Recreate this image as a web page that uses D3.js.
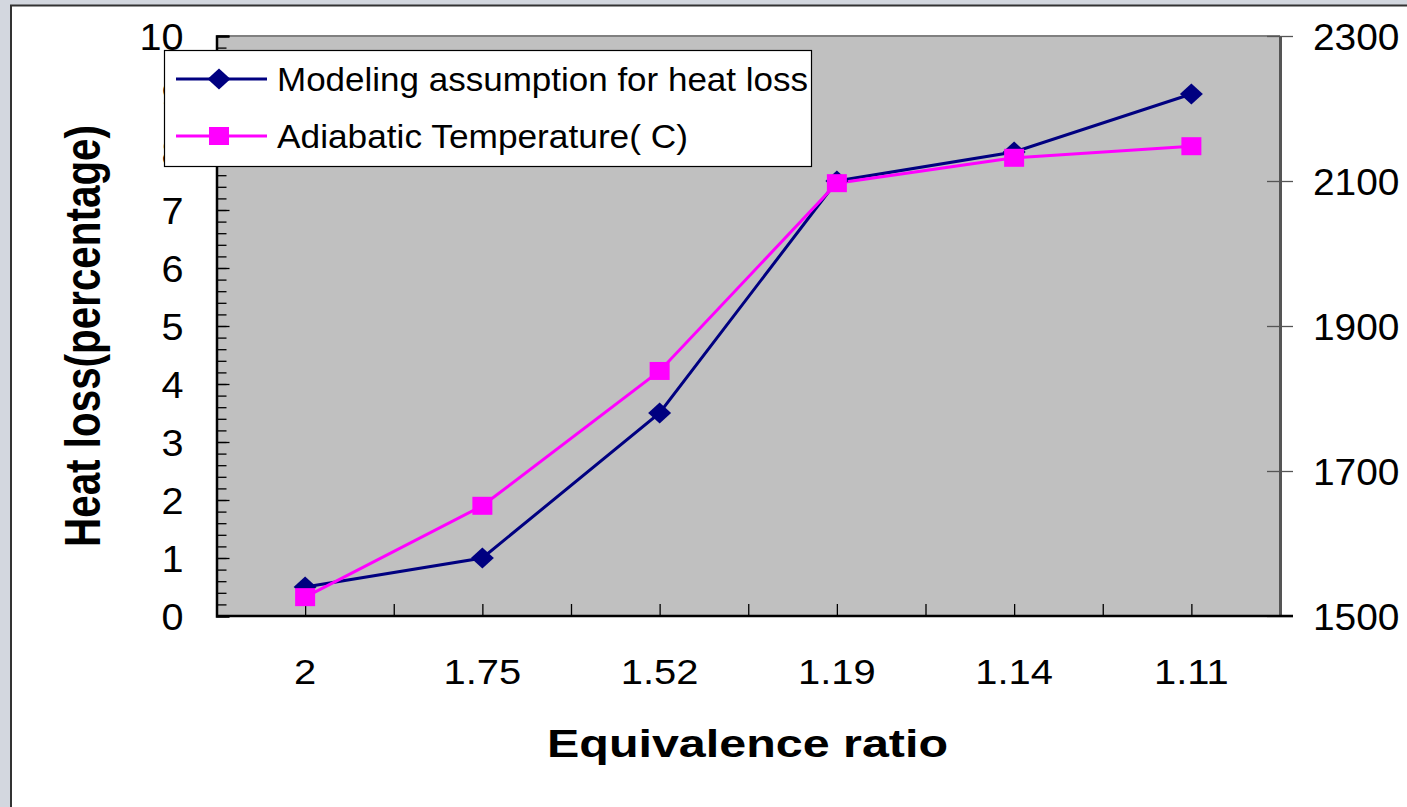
<!DOCTYPE html>
<html><head><meta charset="utf-8">
<script src="https://cdn.jsdelivr.net/npm/d3@7"></script>
<style>
html,body{margin:0;padding:0;background:#d3d7df;}
svg{display:block;font-family:"Liberation Sans",Arial,sans-serif;}
</style></head>
<body>
<svg id="chart" width="1407" height="807"></svg>
<script>
const categories = ["2", "1.75", "1.52", "1.19", "1.14", "1.11"];
const heatLoss = [0.5, 1.0, 3.5, 7.5, 8.0, 9.0];
const adiabaticTemp = [1526, 1652, 1838, 2097, 2132, 2148];
const leftTicks = [0,1,2,3,4,5,6,7,8,9,10];
const rightTicks = [1500,1700,1900,2100,2300];
const seriesNames = ["Modeling assumption for heat loss", "Adiabatic Temperature( C)"];

const svg = d3.select("#chart");
const W = 1407, H = 807;
const P = {l: 216.5, r: 1280, t: 36, b: 616};

// outer panel
svg.append("rect").attr("x", 0).attr("y", 0).attr("width", W).attr("height", H).attr("fill", "#d3d7df");
svg.append("rect").attr("x", 11).attr("y", 5.5).attr("width", W + 20).attr("height", H + 20)
  .attr("fill", "#ffffff").attr("stroke", "#333").attr("stroke-width", 2);

const x = d3.scaleBand().domain(categories).range([P.l, P.r]).paddingInner(0).paddingOuter(0);
const xLin = d3.scaleLinear().domain([0, categories.length]).range([P.l, P.r]);
const yL = d3.scaleLinear().domain([0, 10]).range([P.b, P.t]);
const yR = d3.scaleLinear().domain([1500, 2300]).range([P.b, P.t]);
const cx = c => x(c) + x.bandwidth() / 2;

// plot area
svg.append("rect").attr("x", P.l).attr("y", P.t).attr("width", P.r - P.l).attr("height", P.b - P.t)
  .attr("fill", "#c0c0c0");
svg.append("line").attr("x1", P.l).attr("x2", P.r).attr("y1", P.t).attr("y2", P.t)
  .attr("stroke", "#808080").attr("stroke-width", 2);

function stretch(sel, k) {
  sel.each(function() {
    const len = this.getComputedTextLength();
    d3.select(this).attr("textLength", len * k).attr("lengthAdjust", "spacingAndGlyphs");
  });
}

// left axis minor ticks
const gLm = svg.append("g").attr("transform", `translate(${P.l},0)`)
  .call(d3.axisRight(yL).tickValues(d3.range(0, 10.01, 0.2)).tickSize(10).tickFormat(""));
gLm.select(".domain").remove();
gLm.selectAll("line").attr("stroke", "#000").attr("stroke-width", 1.3);

// left axis major
const gL = svg.append("g").attr("transform", `translate(${P.l},0)`)
  .call(d3.axisLeft(yL).tickValues(leftTicks).tickSize(-13).tickPadding(33).tickFormat(d3.format("d")));
gL.select(".domain").attr("stroke", "#000").attr("stroke-width", 2.5);
gL.selectAll("line").attr("stroke", "#000").attr("stroke-width", 1.3);
gL.selectAll("text").attr("font-size", 36).attr("fill", "#000").attr("dy", "0.38em")
  .attr("font-family", "Liberation Sans, Arial, sans-serif");
stretch(gL.selectAll("text"), 1.1);

// right axis
const gR = svg.append("g").attr("transform", `translate(${P.r},0)`)
  .call(d3.axisRight(yR).tickValues(rightTicks).tickSizeInner(13).tickSizeOuter(0).tickPadding(20).tickFormat(d3.format("d")));
gR.select(".domain").attr("stroke", "#555").attr("stroke-width", 3);
gR.selectAll(".tick line").attr("x1", -13).attr("stroke", "#555").attr("stroke-width", 1.3);
gR.selectAll("text").attr("font-size", 36).attr("fill", "#000").attr("dy", "0.38em")
  .attr("font-family", "Liberation Sans, Arial, sans-serif");
stretch(gR.selectAll("text"), 1.08);

// bottom axis ticks (half-band)
const gBt = svg.append("g").attr("transform", `translate(0,${P.b})`)
  .call(d3.axisBottom(xLin).tickValues(d3.range(0.5, categories.length, 0.5)).tickSize(-12).tickFormat(""));
gBt.select(".domain").remove();
gBt.selectAll("line").attr("stroke", "#000").attr("stroke-width", 1.3);

// bottom axis labels
const gB = svg.append("g").attr("transform", `translate(0,${P.b})`)
  .call(d3.axisBottom(x).tickSize(0).tickPadding(43));
gB.select(".domain").attr("d", `M${P.l},0H${P.r + 13}`).attr("stroke", "#000").attr("stroke-width", 2.5);
gB.selectAll("text").attr("font-size", 35).attr("fill", "#000").attr("dy", "0.71em")
  .attr("font-family", "Liberation Sans, Arial, sans-serif");
stretch(gB.selectAll("text"), 1.14);

// series lines
const lineL = d3.line().x((d, i) => cx(categories[i])).y(d => yL(d));
const lineR = d3.line().x((d, i) => cx(categories[i])).y(d => yR(d));
svg.append("path").datum(heatLoss).attr("d", lineL).attr("fill", "none")
  .attr("stroke", "#000080").attr("stroke-width", 3);
svg.append("path").datum(adiabaticTemp).attr("d", lineR).attr("fill", "none")
  .attr("stroke", "#ff00ff").attr("stroke-width", 3);

const diamond = (px, py) => `M${px},${py - 10.5}L${px + 11.5},${py}L${px},${py + 10.5}L${px - 11.5},${py}Z`;
svg.append("g").selectAll("path").data(heatLoss).join("path")
  .attr("d", (d, i) => diamond(cx(categories[i]), yL(d))).attr("fill", "#000080");
svg.append("g").selectAll("rect").data(adiabaticTemp).join("rect")
  .attr("x", (d, i) => cx(categories[i]) - 10).attr("y", d => yR(d) - 9)
  .attr("width", 20).attr("height", 18).attr("fill", "#ff00ff");

// axis titles
svg.append("text").attr("x", 747.5).attr("y", 757).attr("text-anchor", "middle")
  .attr("font-size", 38).attr("font-weight", "bold").attr("fill", "#000")
  .attr("textLength", 401).attr("lengthAdjust", "spacingAndGlyphs")
  .text("Equivalence ratio");
svg.append("text").attr("transform", "translate(100,336) rotate(-90)").attr("text-anchor", "middle")
  .attr("font-size", 50).attr("font-weight", "bold").attr("fill", "#000")
  .attr("textLength", 422).attr("lengthAdjust", "spacingAndGlyphs")
  .text("Heat loss(percentage)");

// legend
const lg = svg.append("g");
lg.append("rect").attr("x", 164.5).attr("y", 50.5).attr("width", 647).attr("height", 116)
  .attr("fill", "#fff").attr("stroke", "#000").attr("stroke-width", 1.2);
const legendRows = [
  {name: seriesNames[0], color: "#000080", y: 79, marker: "diamond", len: 531},
  {name: seriesNames[1], color: "#ff00ff", y: 136, marker: "square", len: 411}
];
legendRows.forEach(r => {
  lg.append("line").attr("x1", 176).attr("x2", 267).attr("y1", r.y).attr("y2", r.y)
    .attr("stroke", r.color).attr("stroke-width", 3);
  if (r.marker === "diamond") lg.append("path").attr("d", diamond(219, r.y)).attr("fill", r.color);
  else lg.append("rect").attr("x", 209).attr("y", r.y - 9).attr("width", 20).attr("height", 18).attr("fill", r.color);
  lg.append("text").attr("x", 277).attr("y", r.y + 12).attr("font-size", 33).attr("fill", "#000")
    .attr("textLength", r.len).attr("lengthAdjust", "spacingAndGlyphs").text(r.name);
});
</script>
</body></html>
